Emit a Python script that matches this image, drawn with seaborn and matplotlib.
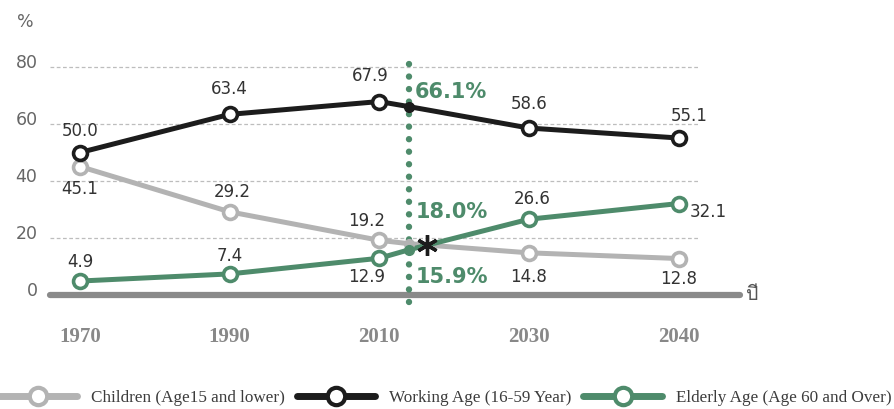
import numpy as np
import pandas as pd
import matplotlib
matplotlib.use("Agg")
import matplotlib.pyplot as plt
import matplotlib.transforms as mtransforms
from matplotlib.lines import Line2D
from matplotlib import font_manager as fm
from matplotlib.ft2font import FT2Font
import seaborn as sns

# ---- data -------------------------------------------------------------
years = [1970, 1990, 2010, 2030, 2040]
children = [45.1, 29.2, 19.2, 14.8, 12.8]
working = [50.0, 63.4, 67.9, 58.6, 55.1]
elderly = [4.9, 7.4, 12.9, 26.6, 32.1]

current_year = 2014
current_children = 18.0
current_working = 66.1
current_elderly = 15.9

series_names = ["Children (Age15 and lower)",
                "Working Age (16-59 Year)",
                "Elderly Age (Age 60 and Over)"]
y_ticks = [0, 20, 40, 60, 80]

# ---- styling ----------------------------------------------------------
sns.set_theme(style="white")
plt.rcParams["font.family"] = ["DejaVu Sans"]

GRAY, BLACK, GREEN = "#b3b3b3", "#1c1c1c", "#4e8b6b"
TEXT = "#333333"


def family_with(ch, fallback="DejaVu Sans"):
    """Return an installed font family that has a glyph for ch."""
    for f in fm.fontManager.ttflist:
        try:
            if FT2Font(f.fname).get_char_index(ord(ch)):
                return f.name
        except Exception:
            continue
    return fallback


thai_family = family_with("ป")


# uneven time axis: equal slots per labelled year
def fwd(y):
    y = np.asarray(y, dtype=float)
    return np.where(y <= 2030, (y - 1970) / 20.0, 3 + (y - 2030) / 10.0)


def inv(s):
    s = np.asarray(s, dtype=float)
    return np.where(s <= 3, 1970 + 20.0 * s, 2030 + 10.0 * (s - 3))


fig = plt.figure(figsize=(8.94, 4.09), dpi=100)
ax = fig.add_axes([50 / 894, (409 - 295) / 409, 690 / 894, 255 / 409])
ax.set_xscale("function", functions=(fwd, inv))
x_left, x_right = float(inv(-0.2)), float(inv(4.41))
ax.set_xlim(x_left, x_right)
ax.set_ylim(0, 89.5)
for s in ax.spines.values():
    s.set_visible(False)

# dashed grid lines
grid_right = float(inv(4.14))
for v in y_ticks[1:]:
    ax.plot([x_left, grid_right], [v, v], color="#bdbdbd", lw=0.9,
            ls=(0, (3, 2)), zorder=1)

# thick base axis
ax.axhline(0, color="#8a8a8a", lw=4.5, zorder=2, clip_on=False)

# current-year marker line
ax.plot([current_year, current_year], [-2.5, 82.5], color=GREEN, lw=4.6,
        ls=(0, (0.01, 1.95)), dash_capstyle="round", zorder=3, clip_on=False)

# ---- lines ------------------------------------------------------------
rows = []
for name, vals, cur in zip(series_names, [children, working, elderly],
                           [current_children, current_working, current_elderly]):
    xs = years[:3] + [current_year] + years[3:]
    ys = vals[:3] + [cur] + vals[3:]
    for x, y in zip(xs, ys):
        rows.append({"year": x, "value": y, "group": name})
df = pd.DataFrame(rows)

colors = [GRAY, BLACK, GREEN]
palette = dict(zip(series_names, colors))
sns.lineplot(data=df, x="year", y="value", hue="group", palette=palette,
             lw=3.6, legend=False, ax=ax, zorder=4, sort=True)
ax.set_xlabel("")
ax.set_ylabel("")

for name, vals, cur, c in zip(series_names, [children, working, elderly],
                              [current_children, current_working, current_elderly],
                              colors):
    ax.plot(years, vals, ls="none", marker="o", ms=10, mfc="white", mec=c,
            mew=2.6, zorder=6, clip_on=False)
    ax.plot([current_year], [cur], ls="none", marker="o", ms=7, mfc=c, mec=c,
            zorder=6)

# crossing point of children and elderly shares after the current year
xa, xb = current_year, years[3]
ca, cb = current_children, children[3]
ea, eb = current_elderly, elderly[3]
t = (ca - ea) / ((eb - ea) - (cb - ca))
x_cross = xa + t * (xb - xa)
y_cross = ca + t * (cb - ca)
ax.plot([x_cross], [y_cross], ls="none", marker=(6, 2, 0), ms=15, mew=2.4,
        color=BLACK, zorder=7)

# ---- value labels -----------------------------------------------------
offsets = {
    "children": [(0, -22), (3, 20), (-13, 19), (0, -24), (0, -20)],
    "working": [(0, 22), (0, 25), (-9, 26), (0, 24), (11, 22)],
    "elderly": [(0, 19), (0, 18), (-13, -19), (3, 20), (30, -8)],
}
for key, vals in zip(["children", "working", "elderly"],
                     [children, working, elderly]):
    for x, v, (dx, dy) in zip(years, vals, offsets[key]):
        ax.annotate(f"{v:.1f}", (x, v), xytext=(dx, dy),
                    textcoords="offset pixels", ha="center", va="center",
                    fontsize=12, color=TEXT, zorder=8)

for v, dy in [(current_working, 15), (current_children, 32),
              (current_elderly, -27)]:
    ax.annotate(f"{v:.1f}%", (current_year, v), xytext=(6, dy),
                textcoords="offset pixels", ha="left", va="center",
                fontsize=15, fontweight="bold", color=GREEN, zorder=8)

# ---- axes text --------------------------------------------------------
ax.set_yticks(y_ticks)
ax.set_yticklabels([str(v) for v in y_ticks])
ax.tick_params(axis="y", length=0, pad=9, labelsize=12.5, labelcolor="#666666")
shift = mtransforms.ScaledTranslation(0, 6 / 100, fig.dpi_scale_trans)
for lab in ax.get_yticklabels():
    lab.set_transform(lab.get_transform() + shift)

ax.set_xticks(years)
ax.set_xticklabels([str(y) for y in years])
ax.xaxis.set_minor_locator(matplotlib.ticker.NullLocator())
ax.tick_params(axis="x", length=0, pad=23)
for lab in ax.get_xticklabels():
    lab.set_fontfamily("Liberation Serif")
    lab.set_fontweight("bold")
    lab.set_fontsize(15)
    lab.set_color("#888888")

fig.text(25 / 894, 1 - 22 / 409, "%", fontsize=12.5, color="#666666",
         ha="center", va="center")
fig.text(752 / 894, 1 - 295 / 409, "ปี", fontsize=14, color="#555555",
         ha="center", va="center", family=[thai_family, "DejaVu Sans"])

# ---- legend -----------------------------------------------------------
handles = [Line2D([], [], color=c, lw=5, marker="o", ms=12.5, mfc="white",
                  mec=c, mew=3) for c in colors]
fig.legend(handles, series_names, loc="center",
           bbox_to_anchor=(445 / 894, 11 / 409), ncol=3, frameon=False,
           handlelength=4.6, handletextpad=0.8, columnspacing=0.7,
           borderpad=0, prop={"family": "Liberation Serif", "size": 12.3},
           labelcolor="#3c3c3c")

fig.savefig("out.png", dpi=100)
